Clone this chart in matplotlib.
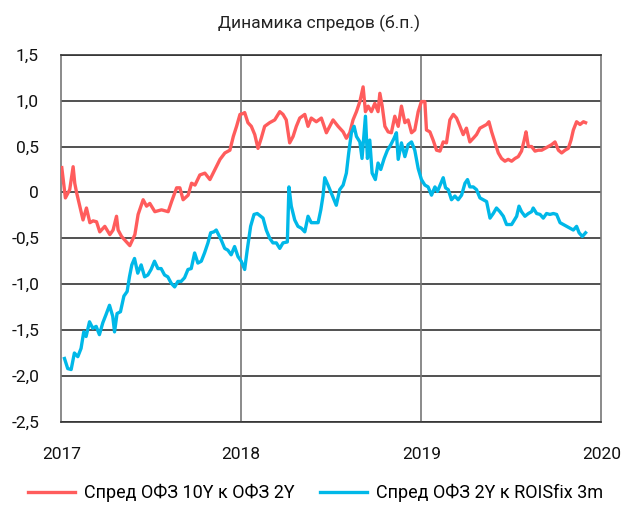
import matplotlib
matplotlib.use("Agg")
import matplotlib.pyplot as plt
from matplotlib import ticker

# time in years since 2017-01-01
red_t = [0.003, 0.023, 0.047, 0.066, 0.075, 0.085, 0.103, 0.121, 0.140, 0.159, 0.177, 0.196,
         0.214, 0.242, 0.270, 0.288, 0.307, 0.316, 0.335, 0.363, 0.381, 0.409, 0.427, 0.455,
         0.474, 0.492, 0.520, 0.557, 0.594, 0.613, 0.641, 0.659, 0.677, 0.705, 0.724, 0.743,
         0.770, 0.798, 0.826, 0.854, 0.882, 0.909, 0.937, 0.956, 0.974, 0.993, 1.011, 1.019,
         1.037, 1.056, 1.075, 1.093, 1.111, 1.130, 1.158, 1.186, 1.214, 1.232, 1.250, 1.269,
         1.288, 1.306, 1.325, 1.353, 1.371, 1.389, 1.417, 1.445, 1.473, 1.510, 1.538, 1.566,
         1.584, 1.603, 1.621, 1.640, 1.659, 1.677, 1.690, 1.705, 1.723, 1.742, 1.760, 1.770,
         1.783, 1.798, 1.816, 1.834, 1.853, 1.872, 1.890, 1.909, 1.927, 1.946, 1.964, 1.983,
         2.001, 2.020, 2.029, 2.048, 2.066, 2.085, 2.104, 2.122, 2.140, 2.159, 2.178, 2.196,
         2.215, 2.233, 2.251, 2.270, 2.289, 2.307, 2.326, 2.344, 2.363, 2.376, 2.391, 2.409,
         2.428, 2.446, 2.465, 2.483, 2.502, 2.521, 2.539, 2.557, 2.572, 2.582, 2.595, 2.613,
         2.632, 2.650, 2.669, 2.688, 2.706, 2.724, 2.743, 2.762, 2.780, 2.799, 2.817, 2.832,
         2.845, 2.863, 2.882, 2.901, 2.913]
red_v = [0.27, -0.06, 0.03, 0.28, 0.10, 0.00, -0.15, -0.30, -0.17, -0.33, -0.31, -0.32,
         -0.43, -0.37, -0.46, -0.41, -0.26, -0.41, -0.48, -0.54, -0.58, -0.46, -0.24, -0.08,
         -0.15, -0.12, -0.21, -0.19, -0.21, -0.10, 0.05, 0.05, -0.08, -0.03, 0.10, 0.08,
         0.19, 0.21, 0.14, 0.25, 0.36, 0.43, 0.46, 0.61, 0.72, 0.85, 0.86, 0.87,
         0.76, 0.72, 0.63, 0.48, 0.59, 0.72, 0.76, 0.79, 0.88, 0.85, 0.79, 0.54,
         0.61, 0.72, 0.81, 0.85, 0.72, 0.81, 0.77, 0.81, 0.65, 0.79, 0.72, 0.66,
         0.59, 0.65, 0.79, 0.88, 0.99, 1.15, 0.88, 0.94, 0.88, 0.97, 0.88, 1.08,
         0.94, 0.72, 0.66, 0.65, 0.83, 0.72, 0.94, 0.76, 0.79, 0.65, 0.68, 0.88,
         0.99, 0.99, 0.68, 0.66, 0.57, 0.46, 0.45, 0.55, 0.54, 0.79, 0.85, 0.81,
         0.72, 0.63, 0.70, 0.55, 0.59, 0.63, 0.70, 0.72, 0.74, 0.77, 0.66, 0.55,
         0.43, 0.37, 0.34, 0.36, 0.34, 0.37, 0.39, 0.45, 0.57, 0.66, 0.50, 0.50,
         0.45, 0.46, 0.46, 0.48, 0.50, 0.52, 0.55, 0.46, 0.43, 0.46, 0.48, 0.57,
         0.68, 0.77, 0.74, 0.77, 0.76]

blue_t = [0.018, 0.036, 0.055, 0.073, 0.092, 0.110, 0.125, 0.138, 0.157, 0.175, 0.194, 0.212,
          0.231, 0.249, 0.268, 0.286, 0.296, 0.310, 0.329, 0.348, 0.366, 0.379, 0.392, 0.407,
          0.425, 0.444, 0.463, 0.481, 0.499, 0.518, 0.537, 0.555, 0.574, 0.592, 0.611, 0.630,
          0.648, 0.666, 0.685, 0.704, 0.722, 0.741, 0.759, 0.778, 0.796, 0.815, 0.830, 0.848,
          0.861, 0.874, 0.889, 0.908, 0.926, 0.944, 0.963, 0.982, 1.000, 1.019, 1.033, 1.052,
          1.071, 1.089, 1.108, 1.121, 1.139, 1.158, 1.176, 1.195, 1.214, 1.232, 1.256, 1.265,
          1.278, 1.297, 1.315, 1.334, 1.353, 1.371, 1.389, 1.408, 1.427, 1.442, 1.454, 1.464,
          1.482, 1.501, 1.528, 1.547, 1.566, 1.584, 1.597, 1.612, 1.627, 1.640, 1.659, 1.671,
          1.690, 1.701, 1.714, 1.727, 1.745, 1.760, 1.775, 1.794, 1.812, 1.831, 1.849, 1.862,
          1.872, 1.890, 1.909, 1.927, 1.946, 1.964, 1.983, 2.001, 2.020, 2.038, 2.057, 2.076,
          2.090, 2.109, 2.122, 2.135, 2.150, 2.168, 2.187, 2.205, 2.224, 2.243, 2.257, 2.270,
          2.289, 2.307, 2.326, 2.344, 2.363, 2.382, 2.400, 2.418, 2.437, 2.456, 2.474, 2.502,
          2.530, 2.543, 2.557, 2.576, 2.595, 2.613, 2.622, 2.641, 2.660, 2.678, 2.696, 2.715,
          2.734, 2.752, 2.771, 2.789, 2.808, 2.827, 2.845, 2.863, 2.877, 2.895, 2.913]
blue_v = [-1.81, -1.92, -1.93, -1.75, -1.79, -1.70, -1.52, -1.57, -1.41, -1.48, -1.46, -1.55,
          -1.42, -1.33, -1.23, -1.35, -1.52, -1.32, -1.30, -1.13, -1.08, -0.92, -0.79, -0.72,
          -0.88, -0.79, -0.92, -0.90, -0.84, -0.75, -0.83, -0.83, -0.90, -0.92, -0.99, -1.03,
          -0.97, -0.97, -0.93, -0.84, -0.83, -0.66, -0.77, -0.75, -0.66, -0.55, -0.44, -0.43,
          -0.41, -0.46, -0.52, -0.61, -0.63, -0.68, -0.59, -0.70, -0.75, -0.84, -0.63, -0.37,
          -0.24, -0.23, -0.26, -0.28, -0.41, -0.50, -0.55, -0.55, -0.61, -0.55, -0.54, 0.06,
          -0.15, -0.30, -0.37, -0.39, -0.43, -0.26, -0.33, -0.33, -0.33, -0.19, -0.04, 0.16,
          0.08, -0.01, -0.14, 0.03, 0.08, 0.21, 0.43, 0.65, 0.72, 0.61, 0.55, 0.37,
          0.83, 0.37, 0.57, 0.21, 0.14, 0.32, 0.25, 0.37, 0.46, 0.52, 0.59, 0.65,
          0.36, 0.54, 0.39, 0.52, 0.55, 0.46, 0.26, 0.14, 0.08, 0.06, -0.03, 0.06,
          0.01, 0.10, 0.16, 0.05, 0.03, -0.08, -0.04, -0.08, -0.03, 0.10, 0.14, 0.06,
          0.06, 0.03, -0.06, -0.08, -0.10, -0.28, -0.23, -0.17, -0.21, -0.26, -0.35, -0.35,
          -0.26, -0.15, -0.21, -0.26, -0.23, -0.21, -0.17, -0.23, -0.24, -0.28, -0.23, -0.24,
          -0.23, -0.24, -0.33, -0.35, -0.37, -0.39, -0.41, -0.37, -0.44, -0.48, -0.44]

years = [2017, 2018, 2019, 2020]
y_ticks = [-2.5, -2.0, -1.5, -1.0, -0.5, 0.0, 0.5, 1.0, 1.5]

red_label = "Спред ОФЗ 10Y к ОФЗ 2Y"
blue_label = "Спред ОФЗ 2Y к ROISfix 3m"

plt.rcParams["font.family"] = ["Roboto", "DejaVu Sans"]

fig = plt.figure(figsize=(6.25, 5.07), dpi=100)
ax = fig.add_axes([0.098, 0.168, 0.864, 0.724])

ax.plot([2017 + t for t in red_t], red_v, color="#FF5C5C", lw=2.4, label=red_label, zorder=3)
ax.plot([2017 + t for t in blue_t], blue_v, color="#00B8E8", lw=2.4, label=blue_label, zorder=3)

ax.set_xlim(2017, 2020)
ax.set_ylim(-2.5, 1.5)
ax.set_xticks(years)
ax.set_xticklabels([str(y) for y in years])
ax.set_yticks(y_ticks)
ax.yaxis.set_major_formatter(ticker.FuncFormatter(
    lambda v, p: "0" if abs(v) < 1e-9 else f"{v:.1f}".replace(".", ",")))

for y in y_ticks:
    ax.axhline(y, color="#333333", lw=1.2, zorder=1)
for x in years[1:-1]:
    ax.axvline(x, color="#777777", lw=1.2, zorder=1)

for side in ["left", "right"]:
    ax.spines[side].set_color("#777777")
    ax.spines[side].set_linewidth(1.2)
for side in ["top", "bottom"]:
    ax.spines[side].set_color("#333333")
    ax.spines[side].set_linewidth(1.2)

ax.tick_params(length=0, labelsize=12.5, colors="#111111")
ax.tick_params(axis="y", pad=16)
ax.tick_params(axis="x", pad=18)

fig.text(0.51, 0.953, "Динамика спредов (б.п.)", ha="center", va="center", fontsize=12.5, color="#222222")

fig.legend(loc="center", bbox_to_anchor=(0.505, 0.027), ncol=2, frameon=False,
           fontsize=13, handlelength=2.6, columnspacing=1.4, handletextpad=0.5)

fig.savefig("out.png", dpi=100)
